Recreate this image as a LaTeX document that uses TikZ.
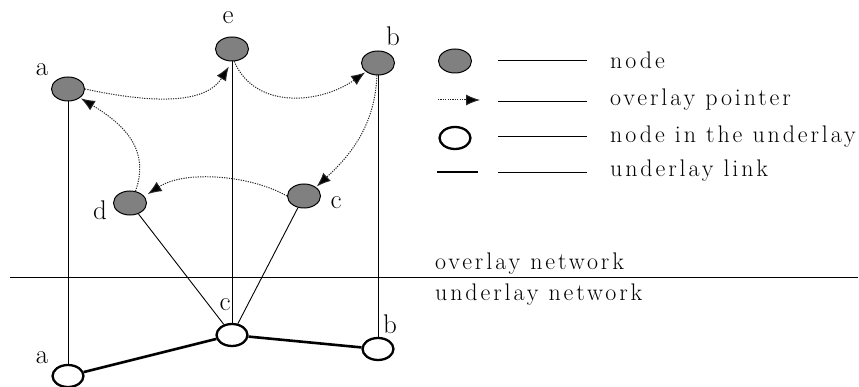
\documentclass[tikz,border=0pt]{standalone}
\usepackage{fontspec}
\usetikzlibrary{arrows.meta,shapes.geometric}
\newfontfamily\spacedfont[LetterSpace=12]{Latin Modern Roman}
\tikzset{
  txt/.style={font=\spacedfont\fontsize{24}{28}\selectfont, inner sep=0pt},
  lbl/.style={font=\fontsize{27}{30}\selectfont, inner sep=0pt},
  onode/.style={ellipse, draw, line width=1pt, fill=ovgray, minimum width=33pt, minimum height=24pt, inner sep=0pt},
  unode/.style={ellipse, draw, line width=2.3pt, fill=white, minimum width=31pt, minimum height=22pt, inner sep=0pt},
  ptr/.style={line width=1pt, dash pattern=on 1.2pt off 1.2pt, draw=black!85, -{Latex[length=14pt,width=11pt,fill=black]}},
  vline/.style={line width=0.9pt},
  ulink/.style={line width=2.6pt},
  lline/.style={line width=0.9pt}
}
\definecolor{ovgray}{RGB}{128,128,128}
\begin{document}
\begin{tikzpicture}[x=1pt,y=-1pt]
\useasboundingbox (0,0) rectangle (859,387);
% overlay nodes
\node[onode] (oa) at (68,89) {};
\node[onode] (oe) at (232,49) {};
\node[onode] (ob) at (378,63) {};
\node[onode] (od) at (130,203) {};
\node[onode] (oc) at (304,196) {};
% underlay nodes
\node[unode] (ua) at (68,376) {};
\node[unode] (uc) at (232,335) {};
\node[unode] (ub) at (378,349) {};
% labels
\node[lbl] (la) at (42,70) {a};
\node[lbl] (le) at (228,18) {e};
\node[lbl] (lb) at (393,36) {b};
\node[lbl] (ld) at (100,210) {d};
\node[lbl] (lc) at (336,203) {c};
\node[lbl] (lua) at (42,358) {a};
\node[lbl] (luc) at (225,305) {c};
\node[lbl] (lub) at (390,324) {b};
% vertical / mapping lines
\draw[vline] (oa.south) -- (ua.north);
\draw[vline] (oe.south) -- (uc.north);
\draw[vline] (ob.south) -- (ub.north);
\draw[vline] (od) -- (uc);
\draw[vline] (oc) -- (uc);
% underlay links
\draw[ulink] (ua) -- (uc);
\draw[ulink] (uc) -- (ub);
% separator
\coordinate (sepL) at (10,277);
\coordinate (sepR) at (858,277);
\draw[line width=0.9pt] (sepL) -- (sepR);
\node[txt, anchor=base west] (ovn) at (435,270) {overlay network};
\node[txt, anchor=base west] (unn) at (435,300) {underlay network};
% overlay pointers
\draw[ptr, shorten >=6pt] (oa.east) .. controls (150,103) and (205,105) .. (oe.south);
\draw[ptr, shorten >=1pt] (oe.-80) .. controls (255,110) and (320,104) .. (ob.south west);
\draw[ptr, shorten >=1pt] (ob.-95) .. controls (375,130) and (345,160) .. (oc.north east);
\draw[ptr, shorten >=4pt] (oc.west) .. controls (250,175) and (185,170) .. (od.25);
\draw[ptr, shorten >=1pt] (od.65) .. controls (150,150) and (125,125) .. (oa.south east);
% legend
\node[onode] (k1) at (455,61) {};
\coordinate (l1a) at (498,60); \coordinate (l1b) at (587,60);
\draw[lline] (l1a) -- (l1b);
\node[txt, anchor=base west] (t1) at (610,69) {node};
\coordinate (k2a) at (438,100); \coordinate (k2b) at (480,100);
\draw[ptr] (k2a) -- (k2b);
\coordinate (l2a) at (498,101); \coordinate (l2b) at (587,101);
\draw[lline] (l2a) -- (l2b);
\node[txt, anchor=base west] (t2) at (610,106) {overlay pointer};
\node[unode] (k3) at (455,138) {};
\coordinate (l3a) at (498,136); \coordinate (l3b) at (587,136);
\draw[lline] (l3a) -- (l3b);
\node[txt, anchor=base west] (t3) at (610,143) {node in the underlay};
\coordinate (k4a) at (437,172); \coordinate (k4b) at (478,172);
\draw[ulink] (k4a) -- (k4b);
\coordinate (l4a) at (498,172); \coordinate (l4b) at (587,172);
\draw[lline] (l4a) -- (l4b);
\node[txt, anchor=base west] (t4) at (610,177) {underlay link};
\end{tikzpicture}
\end{document}
